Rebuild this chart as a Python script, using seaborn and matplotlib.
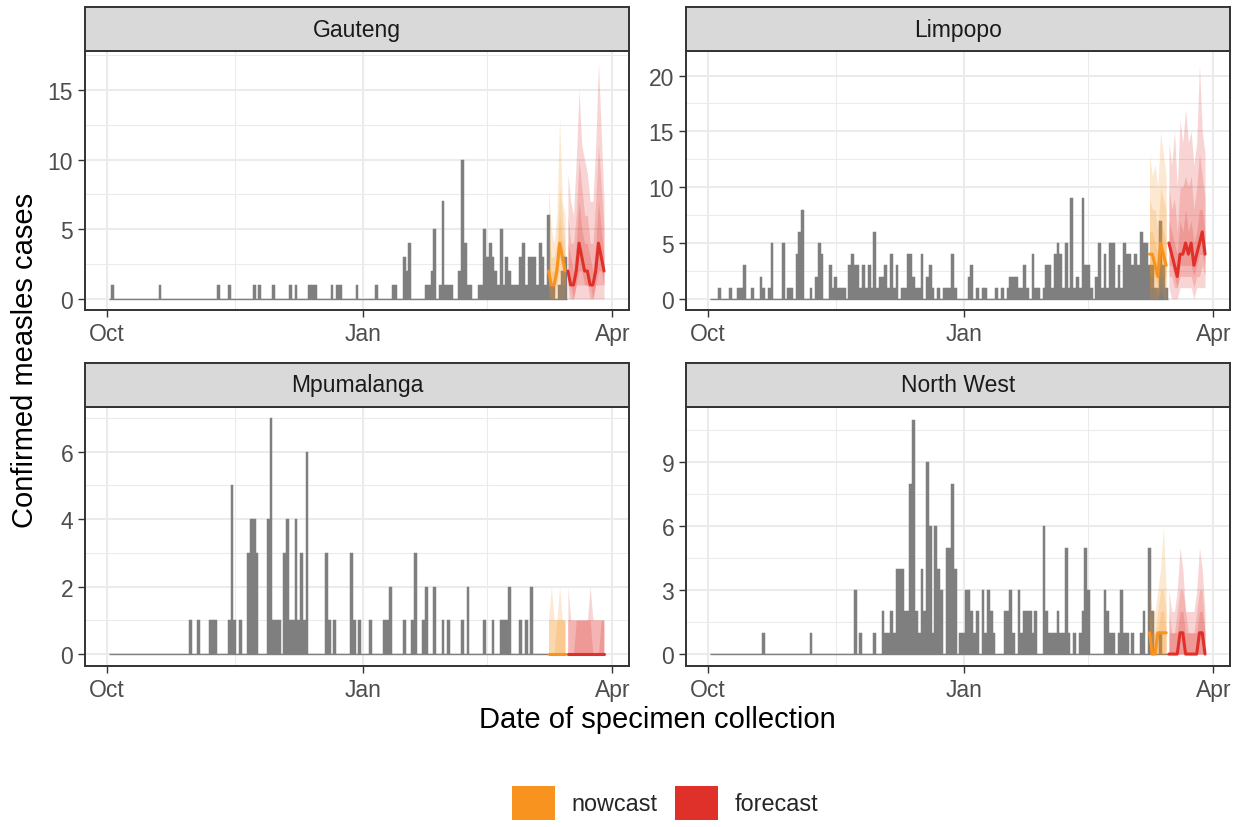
import numpy as np
import pandas as pd
import matplotlib
matplotlib.use("Agg")
import matplotlib.pyplot as plt
from matplotlib.patches import Patch
import seaborn as sns

# ------------------------------------------------------------------ data
START_DATE = pd.Timestamp("2024-10-01")
month_ticks = ["2024-10-01", "2025-01-01", "2025-04-01"]
month_labels = ["Oct", "Jan", "Apr"]
first_obs_day = 1
last_obs_day = 165
nowcast_start_day = 159    # 2025-03-09
forecast_start_day = 166   # 2025-03-16

provinces = ["Gauteng", "Limpopo", "Mpumalanga", "North West"]

# observed daily confirmed cases (day = days since 2024-10-01)
gau_day = [2, 19, 40, 44, 53, 55, 60, 66, 68, 73, 74, 75, 81, 83, 84, 90,
           97, 103, 104, 107, 108, 109, 115, 116, 117, 118, 120, 121, 122, 123, 124,
           127, 128, 129, 130, 131, 134, 135, 136, 137, 138, 139, 140, 141, 142, 143,
           144, 145, 146, 147, 148, 149, 150, 151, 152, 153, 154, 155, 156, 157, 158,
           159, 160, 161, 163, 164, 165]
gau_n = [1, 1, 1, 1, 1, 1, 1, 1, 1, 1, 1, 1, 1, 1, 1, 1,
         1, 1, 1, 3, 2, 4, 1, 1, 2, 5, 1, 7, 1, 1, 1,
         2, 10, 4, 1, 1, 1, 1, 5, 3, 4, 3, 2, 1, 5, 1,
         3, 2, 1, 1, 1, 3, 4, 1, 3, 3, 3, 1, 4, 3, 1,
         6, 1, 1, 1, 2, 3]

lim_day = [4, 8, 11, 12, 13, 16, 19, 20, 22, 23, 27, 29, 30, 32, 33, 34, 37, 39, 40, 41,
           44, 45, 46, 47, 48, 49, 51, 52, 53, 54, 55, 56, 57, 58, 59, 60, 61, 62, 63, 64,
           65, 66, 67, 68, 70, 71, 72, 73, 74, 75, 76, 77, 79, 80, 81, 83, 85, 86, 87, 88,
           89, 94, 95, 97, 99, 100, 104, 106, 108, 109, 110, 111, 112, 113, 114, 115, 117,
           118, 119, 121, 122, 123, 124, 125, 126, 127, 128, 129, 130, 131, 132, 133, 134,
           135, 136, 137, 138, 140, 141, 142, 143, 144, 145, 146, 147, 148, 149, 150, 151,
           152, 153, 154, 155, 156, 157, 158, 159, 160, 161, 162, 163, 164, 165]
lim_n = [1, 1, 1, 1, 3, 1, 2, 1, 1, 5, 5, 1, 1, 4, 6, 8, 1, 2, 5, 4,
         3, 1, 2, 1, 1, 1, 3, 4, 3, 3, 1, 3, 1, 3, 1, 6, 1, 2, 2, 3,
         1, 4, 1, 3, 1, 1, 4, 4, 2, 1, 1, 4, 2, 3, 1, 1, 1, 1, 1, 4,
         1, 2, 3, 1, 1, 1, 1, 1, 1, 2, 2, 2, 1, 1, 3, 1, 4,
         1, 1, 1, 3, 3, 1, 4, 5, 4, 1, 5, 1, 9, 1, 2, 1,
         9, 3, 3, 1, 2, 5, 1, 4, 1, 5, 5, 1, 3, 1, 5, 4,
         4, 3, 4, 3, 6, 5, 5, 3, 3, 1, 1, 7, 3, 1]

mpu_day = [30, 33, 37, 38, 39, 44, 45, 46, 48, 51, 52, 53, 54, 58, 59, 60, 61, 62, 64, 65,
           66, 67, 68, 69, 70, 71, 72, 79, 80, 82, 88, 89, 91, 95, 100, 101, 102, 107, 110,
           111, 114, 115, 118, 121, 123, 128, 130, 136, 139, 142, 143, 144, 145, 149, 151, 153]
mpu_n = [1, 1, 1, 1, 1, 1, 5, 1, 1, 3, 4, 4, 3, 4, 7, 1, 1, 1, 3, 4,
         1, 1, 4, 1, 3, 1, 6, 3, 1, 1, 3, 1, 1, 1, 1, 1, 2, 1, 1,
         3, 1, 2, 2, 1, 1, 1, 2, 1, 1, 1, 1, 1, 2, 1, 1, 2]

nw_day = [20, 37, 53, 55, 60, 63, 64, 65, 66, 67, 68, 69, 70, 71, 72, 73, 74, 75, 76, 77,
          78, 79, 80, 81, 82, 83, 84, 86, 87, 88, 89, 91, 92, 93, 94, 95, 96, 97, 99, 100,
          101, 102, 103, 107, 108, 109, 110, 112, 113, 114, 115, 116, 117, 118, 121, 122,
          123, 124, 125, 126, 127, 128, 129, 130, 132, 134, 135, 136, 137, 143, 144, 145,
          146, 148, 149, 150, 151, 153, 156, 157, 159, 160, 163]
nw_n = [1, 1, 3, 1, 1, 2, 1, 1, 2, 1, 4, 4, 4, 2, 2, 8, 11, 2, 1, 4,
        2, 9, 6, 1, 6, 4, 3, 5, 5, 8, 4, 1, 1, 3, 3, 2, 1, 2, 3, 1,
        3, 2, 1, 2, 2, 3, 1, 3, 1, 2, 2, 2, 1, 2, 6, 2,
        1, 1, 1, 2, 1, 1, 5, 1, 1, 1, 2, 5, 3, 3, 2, 1,
        1, 1, 3, 1, 1, 1, 1, 2, 5, 2, 1]

# nowcast (7 days) and forecast (14 days): median and nested intervals (outer, middle, inner)
gau_now_med = [2, 1, 1, 2, 4, 3, 2]
gau_now_hi = [[8, 5, 4, 6, 13, 7, 6], [5, 3, 3, 4, 8, 6, 4], [3, 2, 2, 3, 6, 4, 3]]
gau_now_lo = [[0, 0, 0, 0, 0, 0, 0], [1, 0, 0, 1, 2, 1, 1], [1, 1, 1, 1, 3, 2, 1]]
gau_fc_med = [2, 1, 1, 2, 4, 3, 2, 2, 1, 1, 2, 4, 3, 2]
gau_fc_hi = [[9, 7, 6, 10, 15, 11, 10, 9, 7, 7, 11, 17, 12, 7],
             [6, 4, 4, 6, 10, 8, 6, 6, 4, 4, 7, 11, 8, 5],
             [4, 3, 2, 4, 7, 5, 4, 4, 3, 2, 4, 7, 5, 3]]
gau_fc_lo = [[0, 0, 0, 0, 0, 0, 0, 0, 0, 0, 0, 0, 0, 0],
             [1, 0, 0, 1, 1, 1, 1, 1, 0, 0, 1, 1, 1, 1],
             [1, 1, 0, 1, 2, 2, 1, 1, 1, 0, 1, 2, 2, 1]]

lim_now_med = [4, 4, 3, 2, 5, 4, 3]
lim_now_hi = [[13, 11, 12, 10, 15, 13, 11], [9, 8, 8, 6, 10, 9, 8], [6, 6, 5, 4, 7, 6, 5]]
lim_now_lo = [[0, 0, 0, 0, 1, 0, 0], [1, 1, 1, 0, 2, 1, 1], [2, 2, 2, 1, 3, 2, 2]]
lim_fc_med = [5, 4, 3, 2, 4, 4, 5, 4, 5, 3, 4, 5, 6, 4]
lim_fc_hi = [[14, 12, 15, 10, 16, 14, 17, 14, 15, 12, 14, 21, 15, 13],
             [10, 8, 9, 6, 10, 10, 11, 10, 11, 8, 10, 13, 11, 9],
             [7, 6, 5, 4, 7, 6, 8, 6, 7, 5, 6, 8, 8, 6]]
lim_fc_lo = [[1, 0, 0, 0, 1, 1, 1, 1, 1, 0, 1, 1, 1, 1],
             [2, 2, 1, 1, 2, 2, 2, 2, 2, 1, 2, 2, 3, 2],
             [3, 3, 2, 1, 3, 3, 3, 3, 3, 2, 3, 4, 4, 3]]

mpu_now_med = [0, 0, 0, 0, 0, 0, 0]
mpu_now_hi = [[1, 2, 1, 1, 2, 1, 1], [1, 1, 1, 1, 1, 1, 1], [0, 0, 0, 1, 1, 1, 1]]
mpu_now_lo = [[0, 0, 0, 0, 0, 0, 0], [0, 0, 0, 0, 0, 0, 0], [0, 0, 0, 0, 0, 0, 0]]
mpu_fc_med = [0, 0, 0, 0, 0, 0, 0, 0, 0, 0, 0, 0, 0, 0]
mpu_fc_hi = [[2, 1, 1, 1, 1, 1, 1, 1, 2, 1, 1, 1, 1, 1],
             [1, 1, 1, 1, 1, 1, 1, 1, 1, 1, 1, 1, 1, 1],
             [0, 0, 0, 1, 1, 1, 1, 1, 1, 0, 0, 0, 1, 1]]
mpu_fc_lo = [[0] * 14, [0] * 14, [0] * 14]

nw_now_med = [1, 0, 0, 1, 1, 1, 1]
nw_now_hi = [[3, 2, 2, 3, 4, 6, 3], [2, 1, 1, 2, 3, 3, 2], [1, 1, 1, 1, 2, 2, 1]]
nw_now_lo = [[0] * 7, [0] * 7, [0] * 7]
nw_fc_med = [0, 0, 0, 0, 1, 1, 0, 0, 0, 0, 0, 1, 1, 0]
nw_fc_hi = [[3, 2, 2, 3, 5, 4, 2, 2, 2, 2, 3, 5, 4, 2],
            [2, 1, 1, 2, 3, 3, 2, 1, 1, 1, 2, 3, 3, 1],
            [1, 1, 1, 1, 2, 2, 1, 1, 1, 1, 1, 2, 2, 1]]
nw_fc_lo = [[0] * 14, [0] * 14, [0] * 14]

y_major = {"Gauteng": [0, 5, 10, 15], "Limpopo": [0, 5, 10, 15, 20],
           "Mpumalanga": [0, 2, 4, 6], "North West": [0, 3, 6, 9]}
y_minor = {"Gauteng": [2.5, 7.5, 12.5, 17.5], "Limpopo": [2.5, 7.5, 12.5, 17.5],
           "Mpumalanga": [1, 3, 5, 7], "North West": [1.5, 4.5, 7.5, 10.5]}

series = {
    "Gauteng": (gau_day, gau_n, gau_now_med, gau_now_hi, gau_now_lo, gau_fc_med, gau_fc_hi, gau_fc_lo),
    "Limpopo": (lim_day, lim_n, lim_now_med, lim_now_hi, lim_now_lo, lim_fc_med, lim_fc_hi, lim_fc_lo),
    "Mpumalanga": (mpu_day, mpu_n, mpu_now_med, mpu_now_hi, mpu_now_lo, mpu_fc_med, mpu_fc_hi, mpu_fc_lo),
    "North West": (nw_day, nw_n, nw_now_med, nw_now_hi, nw_now_lo, nw_fc_med, nw_fc_hi, nw_fc_lo),
}

# ------------------------------------------------------------------ style / layout
sns.set_theme(style="white")
plt.rcParams["font.family"] = ["Liberation Sans", "DejaVu Sans"]

BAR = "#7F7F7F"
NOW = "#F7931E"
FC = "#E0302A"
BORDER = "#333333"
GRID = "#EBEBEB"

W, H = 1240, 828
fig = plt.figure(figsize=(W / 100, H / 100), dpi=100)
fig.patch.set_facecolor("white")


def frac(x0, y0, x1, y1):
    return [x0 / W, 1 - y1 / H, (x1 - x0) / W, (y1 - y0) / H]


panel_px = {"Gauteng": (85, 52, 629, 311), "Limpopo": (686, 52, 1230, 311),
            "Mpumalanga": (85, 408, 629, 667), "North West": (686, 408, 1230, 667)}
ylims = {"Gauteng": (-0.8, 17.8), "Limpopo": (-1.0, 22.2),
         "Mpumalanga": (-0.36, 7.33), "North West": (-0.56, 11.6)}

tick_days = [(pd.Timestamp(t) - START_DATE).days for t in month_ticks]
minor_days = [(a + b) / 2 for a, b in zip(tick_days[:-1], tick_days[1:])]

for name in provinces:
    x0, y0, x1, y1 = panel_px[name]
    ax = fig.add_axes(frac(x0, y0, x1, y1))
    ax.set_facecolor("white")
    ax.set_axisbelow(True)
    day, n, nmed, nhi, nlo, fmed, fhi, flo = series[name]

    ax.bar(np.array(day), np.array(n), width=1.0, color=BAR, edgecolor=BAR,
           linewidth=0.35, zorder=2)
    ax.plot([first_obs_day - 0.5, last_obs_day + 0.5], [0, 0], color=BAR, lw=1.0, zorder=2,
            solid_capstyle="butt")

    nd = nowcast_start_day + np.arange(len(nmed))
    for lo, hi in zip(nlo, nhi):
        ax.fill_between(nd, lo, hi, color=NOW, alpha=0.2, linewidth=0, zorder=3)
    fd = forecast_start_day + np.arange(len(fmed))
    for lo, hi in zip(flo, fhi):
        ax.fill_between(fd, lo, hi, color=FC, alpha=0.2, linewidth=0, zorder=3)
    sns.lineplot(x=nd, y=nmed, ax=ax, color=NOW, linewidth=2.2, zorder=4, legend=False)
    sns.lineplot(x=fd, y=fmed, ax=ax, color=FC, linewidth=2.2, zorder=4, legend=False)

    ax.set_xlim(-8, 188)
    ax.set_ylim(*ylims[name])
    ax.set_xticks(tick_days)
    ax.set_xticklabels(month_labels)
    ax.set_xticks(minor_days, minor=True)
    ax.set_yticks(y_major[name])
    ax.set_yticklabels([str(v) for v in y_major[name]])
    ax.set_yticks(y_minor[name], minor=True)
    ax.grid(which="major", color=GRID, linewidth=1.45)
    ax.grid(which="minor", color=GRID, linewidth=0.75)
    ax.tick_params(which="major", direction="out", length=5, width=1.0, color=BORDER,
                   labelsize=16.5, labelcolor="#4D4D4D", pad=3.5,
                   bottom=True, left=True)
    ax.tick_params(which="minor", length=0)
    ax.set_xlabel("")
    ax.set_ylabel("")
    for s in ax.spines.values():
        s.set_color(BORDER)
        s.set_linewidth(1.4)
        s.set_visible(True)

    # strip
    sax = fig.add_axes(frac(x0, y0 - 44, x1, y0))
    sax.set_facecolor("#D9D9D9")
    sax.set_xticks([])
    sax.set_yticks([])
    for s in sax.spines.values():
        s.set_color(BORDER)
        s.set_linewidth(1.4)
        s.set_visible(True)
    sax.text(0.5, 0.5, name, ha="center", va="center", fontsize=16.5, color="#1A1A1A",
             transform=sax.transAxes)

fig.text(25 / W, 1 - 360 / H, "Confirmed measles cases", rotation=90, ha="center",
         va="center", fontsize=21, color="black")
fig.text(657 / W, 1 - 720 / H, "Date of specimen collection", ha="center", va="center",
         fontsize=21, color="black")

handles = [Patch(facecolor=NOW, edgecolor="none"), Patch(facecolor=FC, edgecolor="none")]
fig.legend(handles, ["nowcast", "forecast"], loc="center", ncol=2, frameon=False,
           bbox_to_anchor=(665 / W, 1 - 804 / H), fontsize=16.8,
           handlelength=1.85, handleheight=1.85, handletextpad=0.69,
           columnspacing=0.77, borderpad=0, borderaxespad=0)

fig.savefig("out.png", dpi=100, facecolor="white")
